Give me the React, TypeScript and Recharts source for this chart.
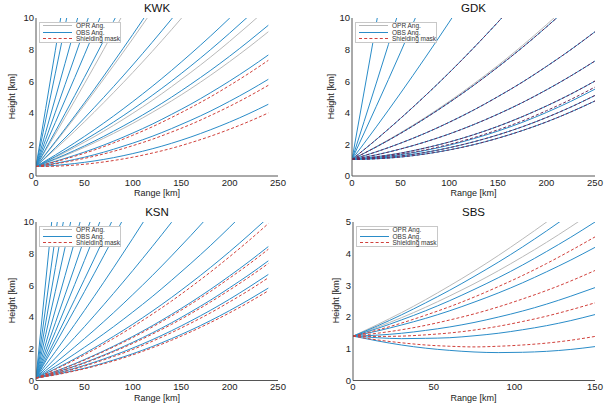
import React from 'react';
import { LineChart, Line, XAxis, YAxis } from 'recharts';

const FONT = '"Liberation Sans", Arial, Helvetica, sans-serif';
const C_OPR = '#b9b9b9';
const C_OBS = '#2a8cc8';
const C_MASK = '#d0413c';
const C_AX = '#555555';

// ---------- KWK ----------
const KWK_R = [0, 20, 40, 60, 80, 100, 120, 140, 160, 180, 200, 220, 240];
const KWK_OBS_1 = [0.6, 0.67, 0.79, 0.95, 1.16, 1.42, 1.72, 2.07, 2.47, 2.92, 3.41, 3.95, 4.54];
const KWK_OBS_2 = [0.6, 0.8, 1.05, 1.34, 1.69, 2.08, 2.51, 3.0, 3.53, 4.1, 4.73, 5.4, 6.12];
const KWK_OBS_3 = [0.6, 0.93, 1.31, 1.73, 2.2, 2.72, 3.28, 3.9, 4.55, 5.26, 6.01, 6.81, 7.66];
const KWK_OBS_4 = [0.6, 1.09, 1.62, 2.2, 2.83, 3.5, 4.22, 4.99, 5.81, 6.67, 7.58, 8.54, 9.54];
const KWK_OBS_5 = [0.6, 1.23, 1.91, 2.64, 3.41, 4.23, 5.1, 6.01, 6.97, 7.98, 9.04, 10.14];
const KWK_OBS_6 = [0.6, 1.33, 2.1, 2.92, 3.79, 4.71, 5.67, 6.68, 7.74, 8.84, 9.99, 11.19];
const KWK_OBS_7 = [0.6, 1.79, 3.03, 4.32, 5.65, 7.03, 8.46, 9.93, 11.45];
const KWK_OBS_8 = [0.6, 2.18, 3.8, 5.47, 7.2, 8.96, 10.77];
const KWK_OBS_9 = [0.6, 2.82, 5.09, 7.41, 9.78, 12.19];
const KWK_OBS_10 = [0.6, 3.39, 6.23, 9.12, 12.06];
const KWK_OBS_11 = [0.6, 4.04, 7.53, 11.07];
const KWK_OBS_12 = [0.6, 4.94, 9.33, 13.77];
const KWK_OBS_13 = [0.6, 6.51, 12.48];
const KWK_OBS_14 = [0.6, 7.96, 15.37];
const KWK_OPR_4 = [0.6, 1.05, 1.55, 2.1, 2.69, 3.33, 4.02, 4.75, 5.53, 6.36, 7.24, 8.16, 9.13];
const KWK_OPR_5 = [0.6, 1.18, 1.81, 2.48, 3.2, 3.97, 4.78, 5.65, 6.56, 7.51, 8.52, 9.57, 10.66];
const KWK_OPR_7 = [0.6, 1.7, 2.84, 4.03, 5.27, 6.55, 7.88, 9.26, 10.68];
const KWK_OPR_8 = [0.6, 2.12, 3.69, 5.31, 6.98, 8.69, 10.45];
const KWK_OPR_9 = [0.6, 2.66, 4.77, 6.92, 9.13, 11.38];
const KWK_MASK_1 = [0.6, 0.62, 0.69, 0.81, 0.98, 1.19, 1.45, 1.75, 2.11, 2.51, 2.96, 3.45, 3.99];
const KWK_MASK_2 = [0.6, 0.77, 0.99, 1.25, 1.56, 1.92, 2.32, 2.78, 3.27, 3.82, 4.41, 5.05, 5.74];
const KWK_MASK_3 = [0.6, 0.9, 1.25, 1.64, 2.09, 2.58, 3.11, 3.7, 4.33, 5.0, 5.73, 6.5, 7.32];

// ---------- GDK ----------
const GDK_R = [0, 25, 50, 75, 100, 125, 150, 175, 200, 225, 250];
const GDK_OBS_1 = [1.05, 9.66, 18.28];
const GDK_OBS_2 = [1.05, 5.88, 10.79];
const GDK_OBS_3 = [1.05, 4.41, 7.84, 11.42];
const GDK_OBS_4 = [1.05, 3.11, 5.25, 7.46, 9.74, 12.1];
const GDK_OBS_5 = [1.05, 2.31, 3.65, 5.06, 6.54, 8.1, 9.73, 11.43];
const GDK_OBS_6 = [1.05, 1.84, 2.7, 3.64, 4.65, 5.73, 6.89, 8.12, 9.43, 10.8];
const GDK_OBS_7 = [1.05, 1.53, 2.08, 2.7, 3.4, 4.17, 5.02, 5.93, 6.93, 7.99, 9.13];
const GDK_OBS_8 = [1.05, 1.34, 1.71, 2.15, 2.66, 3.25, 3.91, 4.64, 5.45, 6.33, 7.28];
const GDK_OBS_9 = [1.05, 1.22, 1.45, 1.77, 2.15, 2.61, 3.14, 3.75, 4.43, 5.18, 6.01];
const GDK_OBS_10 = [1.05, 1.17, 1.35, 1.61, 1.95, 2.36, 2.84, 3.39, 4.02, 4.72, 5.5];
const GDK_OBS_11 = [1.05, 1.12, 1.27, 1.49, 1.79, 2.16, 2.6, 3.11, 3.7, 4.36, 5.1];
const GDK_OBS_12 = [1.05, 1.09, 1.2, 1.39, 1.65, 1.98, 2.39, 2.87, 3.42, 4.05, 4.75];
const GDK_OPR_6 = [1.05, 1.86, 2.74, 3.69, 4.72, 5.82, 6.99, 8.24, 9.57, 10.97];
const GDK_MASK_1 = [1.05, 2.31, 3.65, 5.06, 6.54, 8.1, 9.73, 11.43];
const GDK_MASK_2 = [1.05, 1.84, 2.7, 3.64, 4.65, 5.73, 6.89, 8.12, 9.43, 10.8];
const GDK_MASK_3 = [1.05, 1.53, 2.08, 2.7, 3.4, 4.17, 5.02, 5.93, 6.93, 7.99, 9.13];
const GDK_MASK_4 = [1.05, 1.34, 1.71, 2.15, 2.66, 3.25, 3.91, 4.64, 5.45, 6.33, 7.28];
const GDK_MASK_5 = [1.05, 1.22, 1.45, 1.77, 2.15, 2.61, 3.14, 3.75, 4.43, 5.18, 6.01];
const GDK_MASK_6 = [1.05, 1.18, 1.38, 1.65, 2.0, 2.42, 2.92, 3.48, 4.13, 4.84, 5.63];
const GDK_MASK_7 = [1.05, 1.12, 1.27, 1.49, 1.79, 2.16, 2.6, 3.11, 3.7, 4.36, 5.1];
const GDK_MASK_8 = [1.05, 1.09, 1.2, 1.39, 1.65, 1.98, 2.39, 2.87, 3.42, 4.05, 4.75];

// ---------- KSN ----------
const KSN_R = [0, 20, 40, 60, 80, 100, 120, 140, 160, 180, 200, 220, 240];
const KSN_OBS_1 = [0.15, 12.31];
const KSN_OBS_2 = [0.15, 9.11, 18.1];
const KSN_OBS_3 = [0.15, 7.12, 14.15];
const KSN_OBS_4 = [0.15, 5.63, 11.16];
const KSN_OBS_5 = [0.15, 4.45, 8.79, 13.19];
const KSN_OBS_6 = [0.15, 3.64, 7.17, 10.75];
const KSN_OBS_7 = [0.15, 3.08, 6.06, 9.09, 12.16];
const KSN_OBS_8 = [0.15, 2.61, 5.11, 7.66, 10.26];
const KSN_OBS_9 = [0.15, 2.3, 4.49, 6.73, 9.02, 11.35];
const KSN_OBS_10 = [0.15, 1.82, 3.54, 5.3, 7.11, 8.97, 10.87];
const KSN_OBS_11 = [0.15, 1.41, 2.72, 4.08, 5.49, 6.94, 8.44, 9.98, 11.58];
const KSN_OBS_12 = [0.15, 1.11, 2.12, 3.17, 4.27, 5.42, 6.61, 7.86, 9.15, 10.48];
const KSN_OBS_13 = [0.15, 0.89, 1.68, 2.51, 3.39, 4.32, 5.29, 6.32, 7.39, 8.5, 9.67, 10.88];
const KSN_OBS_14 = [0.15, 0.74, 1.37, 2.05, 2.78, 3.55, 4.37, 5.24, 6.16, 7.12, 8.13, 9.19, 10.29];
const KSN_OBS_15 = [0.15, 0.58, 1.06, 1.59, 2.16, 2.78, 3.45, 4.17, 4.93, 5.74, 6.6, 7.5, 8.45];
const KSN_OBS_16 = [0.15, 0.51, 0.91, 1.36, 1.86, 2.41, 3.0, 3.64, 4.33, 5.06, 5.85, 6.67, 7.55];
const KSN_OBS_17 = [0.15, 0.44, 0.77, 1.15, 1.58, 2.05, 2.57, 3.14, 3.76, 4.42, 5.13, 5.89, 6.69];
const KSN_OBS_18 = [0.15, 0.37, 0.63, 0.93, 1.29, 1.69, 2.14, 2.64, 3.18, 3.77, 4.41, 5.1, 5.83];
const KSN_MASK_1 = [0.15, 0.7, 1.3, 1.95, 2.65, 3.39, 4.18, 5.01, 5.9, 6.83, 7.81, 8.83, 9.9];
const KSN_MASK_2 = [0.15, 0.57, 1.03, 1.55, 2.11, 2.71, 3.37, 4.07, 4.82, 5.61, 6.46, 7.34, 8.28];
const KSN_MASK_3 = [0.15, 0.49, 0.88, 1.32, 1.81, 2.34, 2.92, 3.54, 4.22, 4.94, 5.71, 6.52, 7.38];
const KSN_MASK_4 = [0.15, 0.42, 0.73, 1.1, 1.51, 1.96, 2.47, 3.02, 3.62, 4.26, 4.96, 5.69, 6.48];
const KSN_MASK_5 = [0.15, 0.35, 0.6, 0.89, 1.23, 1.62, 2.06, 2.54, 3.07, 3.65, 4.27, 4.94, 5.66];

// ---------- SBS ----------
const SBS_R = [0, 15, 30, 45, 60, 75, 90, 105, 120, 135, 150];
const SBS_OBS_1 = [1.4, 1.25, 1.12, 1.02, 0.95, 0.9, 0.88, 0.89, 0.92, 0.98, 1.07];
const SBS_OBS_2 = [1.4, 1.35, 1.32, 1.33, 1.35, 1.41, 1.49, 1.6, 1.73, 1.89, 2.08];
const SBS_OBS_3 = [1.4, 1.43, 1.49, 1.58, 1.69, 1.83, 2.0, 2.19, 2.41, 2.66, 2.93];
const SBS_OBS_4 = [1.4, 1.56, 1.75, 1.96, 2.2, 2.47, 2.76, 3.08, 3.43, 3.8, 4.2];
const SBS_OBS_5 = [1.4, 1.64, 1.91, 2.2, 2.52, 2.87, 3.24, 3.64, 4.07, 4.52, 5.0];
const SBS_OBS_6 = [1.4, 1.72, 2.07, 2.45, 2.85, 3.28, 3.73, 4.21, 4.72, 5.25];
const SBS_OPR_5 = [1.4, 1.68, 1.98, 2.31, 2.67, 3.05, 3.46, 3.9, 4.36, 4.85, 5.36];
const SBS_OPR_6 = [1.4, 1.76, 2.14, 2.55, 2.99, 3.45, 3.94, 4.46, 5.0, 5.57];
const SBS_MASK_1 = [1.4, 1.28, 1.19, 1.12, 1.08, 1.06, 1.08, 1.12, 1.18, 1.27, 1.39];
const SBS_MASK_2 = [1.4, 1.39, 1.4, 1.44, 1.5, 1.59, 1.71, 1.86, 2.03, 2.23, 2.45];
const SBS_MASK_3 = [1.4, 1.49, 1.6, 1.74, 1.91, 2.1, 2.32, 2.57, 2.84, 3.14, 3.47];
const SBS_MASK_4 = [1.4, 1.59, 1.81, 2.06, 2.33, 2.63, 2.96, 3.31, 3.69, 4.1, 4.53];

// ---------- ticks ----------
const X250_MAJOR = [0, 50, 100, 150, 200, 250];
const X250_MINOR = [0, 10, 20, 30, 40, 50, 60, 70, 80, 90, 100, 110, 120, 130, 140, 150, 160, 170, 180, 190, 200, 210, 220, 230, 240, 250];
const X150_MAJOR = [0, 50, 100, 150];
const X150_MINOR = [0, 10, 20, 30, 40, 50, 60, 70, 80, 90, 100, 110, 120, 130, 140, 150];
const Y10_MAJOR = [0, 2, 4, 6, 8, 10];
const Y10_MINOR = [0, 0.4, 0.8, 1.2, 1.6, 2, 2.4, 2.8, 3.2, 3.6, 4, 4.4, 4.8, 5.2, 5.6, 6, 6.4, 6.8, 7.2, 7.6, 8, 8.4, 8.8, 9.2, 9.6, 10];
const Y5_MAJOR = [0, 1, 2, 3, 4, 5];
const Y5_MINOR = [0, 0.2, 0.4, 0.6, 0.8, 1, 1.2, 1.4, 1.6, 1.8, 2, 2.2, 2.4, 2.6, 2.8, 3, 3.2, 3.4, 3.6, 3.8, 4, 4.2, 4.4, 4.6, 4.8, 5];

type Kind = 'opr' | 'obs' | 'mask';
type S = { kind: Kind; h: number[] };
const asKind = (kind: Kind, list: number[][]): S[] => list.map((h) => ({ kind, h }));

const KWK_SERIES: S[] = [
  ...asKind('opr', [KWK_OPR_4, KWK_OPR_5, KWK_OPR_7, KWK_OPR_8, KWK_OPR_9]),
  ...asKind('obs', [KWK_OBS_1, KWK_OBS_2, KWK_OBS_3, KWK_OBS_4, KWK_OBS_5, KWK_OBS_6, KWK_OBS_7, KWK_OBS_8, KWK_OBS_9,
    KWK_OBS_10, KWK_OBS_11, KWK_OBS_12, KWK_OBS_13, KWK_OBS_14]),
  ...asKind('mask', [KWK_MASK_1, KWK_MASK_2, KWK_MASK_3]),
];
const GDK_SERIES: S[] = [
  ...asKind('opr', [GDK_OPR_6]),
  ...asKind('obs', [GDK_OBS_1, GDK_OBS_2, GDK_OBS_3, GDK_OBS_4, GDK_OBS_5, GDK_OBS_6, GDK_OBS_7, GDK_OBS_8, GDK_OBS_9,
    GDK_OBS_10, GDK_OBS_11, GDK_OBS_12]),
  ...asKind('mask', [GDK_MASK_1, GDK_MASK_2, GDK_MASK_3, GDK_MASK_4, GDK_MASK_5, GDK_MASK_6, GDK_MASK_7, GDK_MASK_8]),
];
const KSN_SERIES: S[] = [
  ...asKind('obs', [KSN_OBS_1, KSN_OBS_2, KSN_OBS_3, KSN_OBS_4, KSN_OBS_5, KSN_OBS_6, KSN_OBS_7, KSN_OBS_8, KSN_OBS_9,
    KSN_OBS_10, KSN_OBS_11, KSN_OBS_12, KSN_OBS_13, KSN_OBS_14, KSN_OBS_15, KSN_OBS_16, KSN_OBS_17, KSN_OBS_18]),
  ...asKind('mask', [KSN_MASK_1, KSN_MASK_2, KSN_MASK_3, KSN_MASK_4, KSN_MASK_5]),
];
const SBS_SERIES: S[] = [
  ...asKind('opr', [SBS_OPR_5, SBS_OPR_6]),
  ...asKind('obs', [SBS_OBS_1, SBS_OBS_2, SBS_OBS_3, SBS_OBS_4, SBS_OBS_5, SBS_OBS_6]),
  ...asKind('mask', [SBS_MASK_1, SBS_MASK_2, SBS_MASK_3, SBS_MASK_4]),
];

type Box = { x0: number; y0: number; x1: number; y1: number };

type PanelProps = {
  title: string;
  box: Box;
  xMax: number; xMajor: number[]; xMinor: number[];
  yMax: number; yMajor: number[]; yMinor: number[];
  ranges: number[];
  series: S[];
  yTitleX: number;
  xTitleY: number;
  maskColor?: string;
};

const tickFont = { fontSize: 9.5, fill: '#222', fontFamily: FONT };

const LEGEND_ROWS: { label: string; color: string; style: 'solid' | 'dashed' }[] = [
  { label: 'OPR Ang.', color: C_OPR, style: 'solid' },
  { label: 'OBS Ang.', color: C_OBS, style: 'solid' },
  { label: 'Shielding mask', color: C_MASK, style: 'dashed' },
];

function LegendBox({ x, y }: { x: number; y: number }) {
  return (
    <div style={{ position: 'absolute', left: x, top: y, width: 82, height: 21, border: '1px solid #c8c8c8', boxSizing: 'border-box', background: '#ffffff' }}>
      {LEGEND_ROWS.map((row, i) => (
        <React.Fragment key={row.label}>
          <div style={{ position: 'absolute', left: 3, top: 2.5 + i * 6.5, width: 29, height: 0, borderTop: `1px ${row.style} ${row.color}` }} />
          <div style={{ position: 'absolute', left: 36, top: -0.5 + i * 6.5, fontSize: 6.5, lineHeight: '7px', fontFamily: FONT, color: '#333', whiteSpace: 'nowrap' }}>{row.label}</div>
        </React.Fragment>
      ))}
    </div>
  );
}

function Panel(p: PanelProps) {
  const YW = 30, XH = 20, PT = 20, PR = 10, PB = 24;
  const w = p.box.x1 - p.box.x0;
  const h = p.box.y1 - p.box.y0;
  const width = w + YW + 4 + PR;
  const height = h + PT + PB;
  const order: Kind[] = ['opr', 'obs', 'mask'];
  const sorted = order.flatMap((k) => p.series.filter((s) => s.kind === k));
  const xDom: [number, number] = [0, p.xMax];
  const yDom: [number, number] = [0, p.yMax];
  const tl = { stroke: C_AX, strokeWidth: 0.8 };
  return (
    <>
      <div style={{ position: 'absolute', left: p.box.x0 - YW - 4, top: p.box.y0 - PT }}>
        <LineChart width={width} height={height} margin={{ top: PT, right: PR, left: 4, bottom: PB - XH }}>
          <XAxis xAxisId="x" dataKey="r" type="number" domain={xDom} ticks={p.xMajor} interval={0} allowDataOverflow
            height={XH} tickLine={false} tickSize={0} tickMargin={3} axisLine={{ stroke: C_AX }} tick={tickFont} />
          <XAxis xAxisId="xb1" type="number" domain={xDom} ticks={p.xMajor} interval={0} allowDataOverflow orientation="bottom" mirror
            height={0} tick={false} tickSize={4} axisLine={false} tickLine={tl} />
          <XAxis xAxisId="xb2" type="number" domain={xDom} ticks={p.xMinor} interval={0} allowDataOverflow orientation="bottom" mirror
            height={0} tick={false} tickSize={2} axisLine={false} tickLine={tl} />
          <XAxis xAxisId="xt1" type="number" domain={xDom} ticks={p.xMajor} interval={0} allowDataOverflow orientation="top" mirror
            height={0} tick={false} tickSize={4} axisLine={{ stroke: C_AX }} tickLine={tl} />
          <XAxis xAxisId="xt2" type="number" domain={xDom} ticks={p.xMinor} interval={0} allowDataOverflow orientation="top" mirror
            height={0} tick={false} tickSize={2} axisLine={false} tickLine={tl} />
          <YAxis yAxisId="y" type="number" domain={yDom} ticks={p.yMajor} interval={0} allowDataOverflow
            width={YW} tickLine={false} tickSize={0} tickMargin={2} axisLine={{ stroke: C_AX }} tick={tickFont} />
          <YAxis yAxisId="yl1" type="number" domain={yDom} ticks={p.yMajor} interval={0} allowDataOverflow orientation="left" mirror
            width={0} tick={false} tickSize={4} axisLine={false} tickLine={tl} />
          <YAxis yAxisId="yl2" type="number" domain={yDom} ticks={p.yMinor} interval={0} allowDataOverflow orientation="left" mirror
            width={0} tick={false} tickSize={2} axisLine={false} tickLine={tl} />
          <YAxis yAxisId="yr1" type="number" domain={yDom} ticks={p.yMajor} interval={0} allowDataOverflow orientation="right" mirror
            width={0} tick={false} tickSize={4} axisLine={{ stroke: C_AX }} tickLine={tl} />
          <YAxis yAxisId="yr2" type="number" domain={yDom} ticks={p.yMinor} interval={0} allowDataOverflow orientation="right" mirror
            width={0} tick={false} tickSize={2} axisLine={false} tickLine={tl} />
          {sorted.map((s, i) => (
            <Line key={i} xAxisId="x" yAxisId="y" type="monotone" dataKey="h"
              data={s.h.map((v, j) => ({ r: p.ranges[j], h: v }))}
              stroke={s.kind === 'opr' ? C_OPR : s.kind === 'obs' ? C_OBS : (p.maskColor || C_MASK)}
              strokeWidth={1}
              strokeDasharray={s.kind === 'mask' ? '3 2' : undefined}
              dot={false} activeDot={false} isAnimationActive={false} />
          ))}
        </LineChart>
      </div>
      <div style={{ position: 'absolute', left: (p.box.x0 + p.box.x1) / 2 - 50, width: 100, top: p.box.y0 - 16, textAlign: 'center', fontSize: 11.5, lineHeight: '13px', fontFamily: FONT, color: '#111' }}>{p.title}</div>
      <div style={{ position: 'absolute', left: (p.box.x0 + p.box.x1) / 2 - 50, width: 100, top: p.xTitleY - 4.5, textAlign: 'center', fontSize: 9, lineHeight: '9px', fontFamily: FONT, color: '#222' }}>Range [km]</div>
      <div style={{ position: 'absolute', left: p.yTitleX - 50, width: 100, top: (p.box.y0 + p.box.y1) / 2 - 4.5, textAlign: 'center', fontSize: 9, lineHeight: '9px', fontFamily: FONT, color: '#222', transform: 'rotate(-90deg)' }}>Height [km]</div>
      <LegendBox x={p.box.x0 + 3} y={p.box.y0 + 4} />
    </>
  );
}

export default function App() {
  return (
    <div style={{ position: 'absolute', left: 0, top: 0, width: 613, height: 407, background: '#fff', overflow: 'hidden' }}>
      <Panel title="KWK" box={{ x0: 36, y0: 17.5, x1: 278, y1: 175.5 }} xMax={250} xMajor={X250_MAJOR} xMinor={X250_MINOR}
        yMax={10} yMajor={Y10_MAJOR} yMinor={Y10_MINOR} ranges={KWK_R} series={KWK_SERIES} yTitleX={12} xTitleY={193.5} />
      <Panel title="GDK" box={{ x0: 352, y0: 17.5, x1: 595, y1: 175.5 }} xMax={250} xMajor={X250_MAJOR} xMinor={X250_MINOR}
        yMax={10} yMajor={Y10_MAJOR} yMinor={Y10_MINOR} ranges={GDK_R} series={GDK_SERIES} yTitleX={331} xTitleY={193.5} maskColor="#6a2a5a" />
      <Panel title="KSN" box={{ x0: 36, y0: 221.5, x1: 278, y1: 380 }} xMax={250} xMajor={X250_MAJOR} xMinor={X250_MINOR}
        yMax={10} yMajor={Y10_MAJOR} yMinor={Y10_MINOR} ranges={KSN_R} series={KSN_SERIES} yTitleX={12} xTitleY={398} />
      <Panel title="SBS" box={{ x0: 352.5, y0: 221.5, x1: 594.5, y1: 380 }} xMax={150} xMajor={X150_MAJOR} xMinor={X150_MINOR}
        yMax={5} yMajor={Y5_MAJOR} yMinor={Y5_MINOR} ranges={SBS_R} series={SBS_SERIES} yTitleX={336} xTitleY={398} />
    </div>
  );
}
